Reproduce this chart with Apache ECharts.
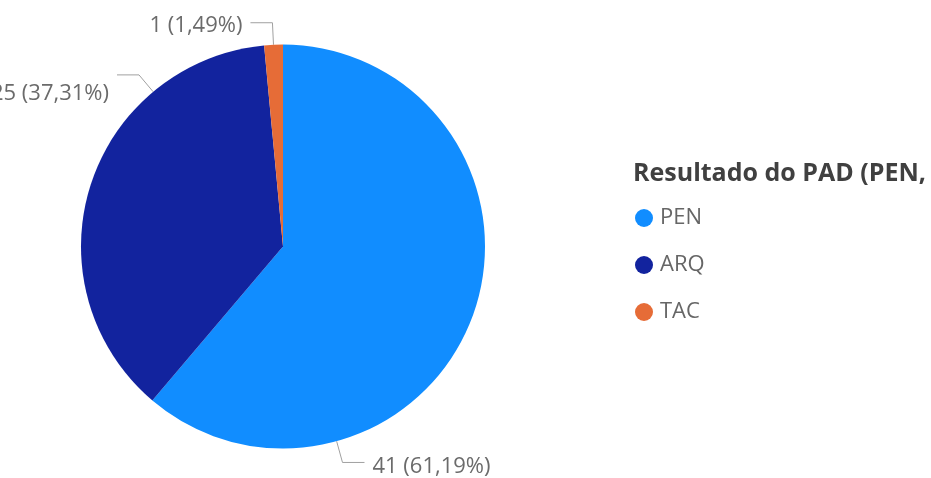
<!DOCTYPE html>
<html>
<head>
<meta charset="utf-8">
<script src="https://cdn.jsdelivr.net/npm/echarts@6/dist/echarts.min.js"></script>
<style>
  html, body { margin: 0; padding: 0; background: #fff; }
  #chart { width: 931px; height: 478px; }
</style>
</head>
<body>
<div id="chart"></div>
<script>
// Resultado do PAD – share of cases by outcome
const categories = ['PEN', 'ARQ', 'TAC'];
const counts = [41, 25, 1];
const sliceColors = ['#118DFF', '#12239E', '#E66C37'];

// Leader-line placement: where each line leaves the pie (degrees clockwise from 12 o'clock)
const leaderAngles = [164.6, 320, 357.3];
const leaderDy = [4, 19, 3];

const CX = 283, CY = 246.5, R = 202;
const LEN1 = 22, LEN2 = 22, GAP = 8;
const FONT = '"Segoe UI", "Open Sans", sans-serif';

const total = counts.reduce((a, b) => a + b, 0);
function fmtPct(v) {
  return (v / total * 100).toFixed(2).replace('.', ',') + '%';
}

const chart = echarts.init(document.getElementById('chart'));
chart.setOption({
  animation: false,
  color: sliceColors,
  textStyle: { fontFamily: FONT },
  title: {
    text: 'Resultado do PAD (PEN, ARQ, TAC)',
    left: 633,
    top: 161,
    padding: 0,
    textStyle: { fontSize: 25, fontWeight: 'bold', color: '#404040', fontFamily: FONT, lineHeight: 26 }
  },
  legend: {
    orient: 'vertical',
    left: 635,
    top: 207,
    padding: 0,
    icon: 'circle',
    itemWidth: 18,
    itemHeight: 18,
    itemGap: 25,
    data: categories,
    textStyle: { fontSize: 22, lineHeight: 22, color: '#666', padding: [0, 0, 0, 2] }
  },
  series: [{
    type: 'pie',
    center: [CX, CY],
    radius: [0, R],
    startAngle: 90,
    clockwise: true,
    avoidLabelOverlap: false,
    data: categories.map((c, i) => ({ name: c, value: counts[i] })),
    label: {
      show: true,
      overflow: 'none',
      formatter: p => p.value + ' (' + fmtPct(p.value) + ')',
      fontSize: 22,
      color: '#6b6b6b',
      fontFamily: FONT
    },
    labelLine: {
      show: true,
      lineStyle: { color: '#a0a0a0', width: 1 }
    },
    labelLayout: function (params) {
      const i = params.dataIndex;
      const a = leaderAngles[i] * Math.PI / 180;
      const sx = Math.sin(a), sy = -Math.cos(a);
      const p0 = [CX + R * sx, CY + R * sy];
      const p1 = [p0[0] + LEN1 * sx, p0[1] + LEN1 * sy];
      const dir = sx >= 0 ? 1 : -1;
      const p2 = [p1[0] + dir * LEN2, p1[1]];
      return {
        x: p2[0] + dir * GAP,
        y: p2[1] + leaderDy[i],
        align: dir > 0 ? 'left' : 'right',
        verticalAlign: 'middle',
        labelLinePoints: [p0, p1, p2]
      };
    },
    itemStyle: { borderWidth: 0 },
    emphasis: { disabled: true }
  }]
});
</script>
</body>
</html>
